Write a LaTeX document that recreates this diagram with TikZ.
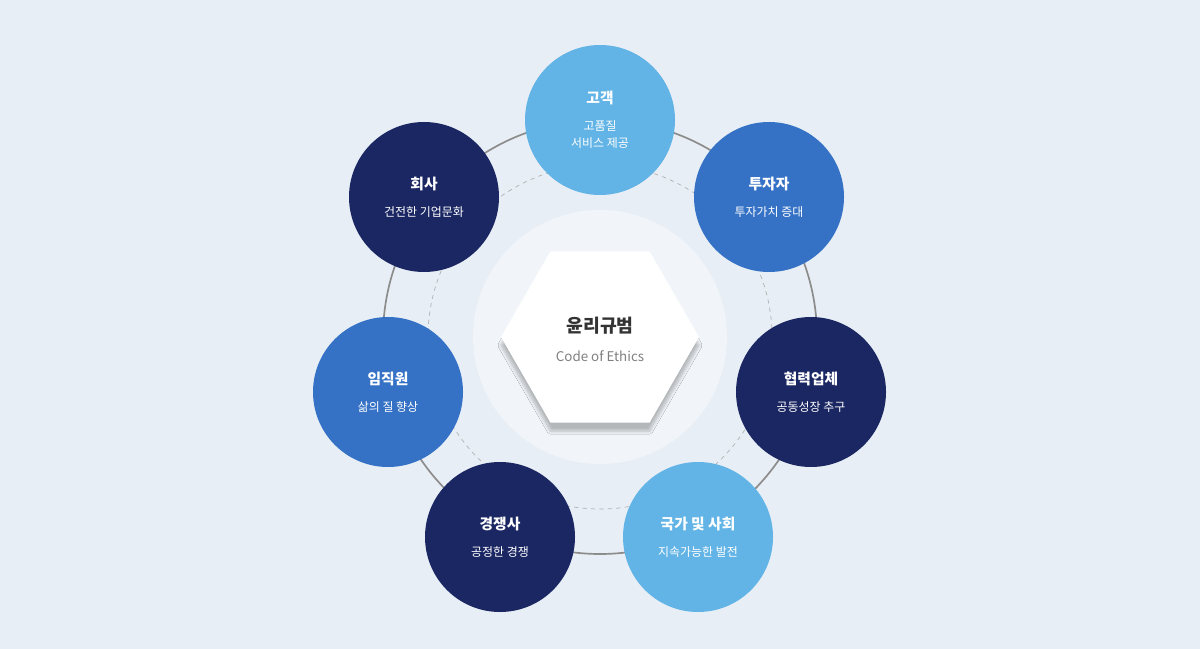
\documentclass[tikz,border=0pt]{standalone}
\usepackage{fontspec}
\setmainfont{Noto Sans CJK KR}
\usetikzlibrary{shapes.geometric,shadows.blur}
\definecolor{bg}{HTML}{E8EEF5}
\definecolor{lb}{HTML}{62B4E6}
\definecolor{mb}{HTML}{3572C6}
\definecolor{nv}{HTML}{1B2763}
\definecolor{inn}{HTML}{F1F5F9}
\tikzset{
 bub/.style={circle,minimum size=150*0.025cm,inner sep=0pt,text=white,align=center,font=\fontsize{8.5}{12}\selectfont},
}
\newcommand{\bt}[2]{{\fontsize{10.5}{13}\selectfont\bfseries #1}\\[7pt]#2}
\begin{document}
\begin{tikzpicture}[x=0.025cm,y=-0.025cm]
\fill[bg] (0,0) rectangle (1200,649);
\useasboundingbox (0,0) rectangle (1200,649);
\coordinate (c) at (600,337);
\draw[gray!90,line width=1.2pt] (c) circle[radius=217*0.025cm];
\draw[gray!60,dashed,line width=0.5pt] (c) circle[radius=172*0.025cm];
\fill[inn] (c) circle[radius=127*0.025cm];
\node[regular polygon,regular polygon sides=6,minimum size=198*0.025cm,fill=white,inner sep=0pt,blur shadow={shadow blur steps=8,shadow xshift=0pt,shadow yshift=-6pt,shadow opacity=25}] (hex) at (c) {};
\node[font=\fontsize{13}{15}\selectfont\bfseries,text=black!80] (t) at (600,326) {윤리규범};
\node[font=\fontsize{9.5}{11}\selectfont,text=gray] (s) at (600,356) {Code of Ethics};
\node[bub,fill=lb] (n1) at (600,120) {\bt{고객}{고품질\\서비스 제공}};
\node[bub,fill=mb] (n2) at (769,197) {\bt{투자자}{투자가치 증대}};
\node[bub,fill=nv] (n3) at (811,392) {\bt{협력업체}{공동성장 추구}};
\node[bub,fill=lb] (n4) at (698,537) {\bt{국가 및 사회}{지속가능한 발전}};
\node[bub,fill=nv] (n5) at (500,537) {\bt{경쟁사}{공정한 경쟁}};
\node[bub,fill=mb] (n6) at (388,392) {\bt{임직원}{삶의 질 향상}};
\node[bub,fill=nv] (n7) at (424,197) {\bt{회사}{건전한 기업문화}};
\end{tikzpicture}
\end{document}
